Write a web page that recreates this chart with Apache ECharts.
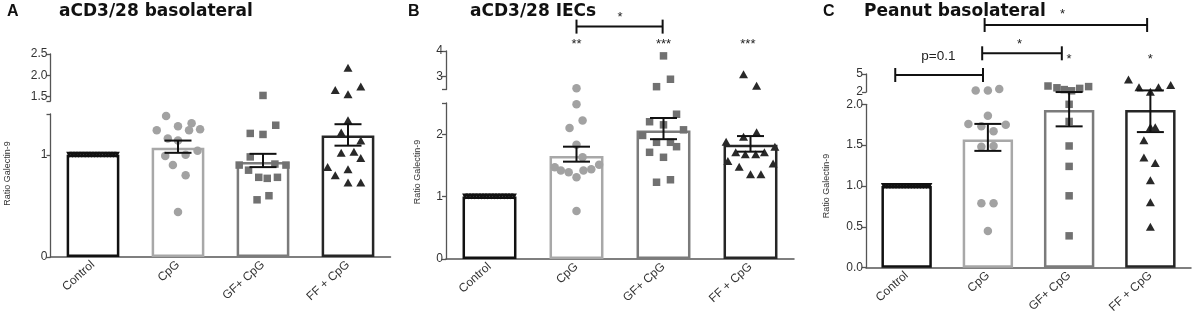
<!DOCTYPE html>
<html>
<head>
<meta charset="utf-8">
<script src="https://cdn.jsdelivr.net/npm/echarts@6/dist/echarts.min.js"></script>
<style>
  html, body { margin: 0; background: #fff; }
  #chart { width: 1192px; height: 323px; }
</style>
</head>
<body>
<div id="chart"></div>
<script>
// ---- data ----
const categories = ['Control', 'CpG', 'GF+ CpG', 'FF + CpG'];

// control wells are all normalised to 1 (row of inverted triangles)
const controlPoints = [[-0.28, 1], [-0.243, 1], [-0.205, 1], [-0.168, 1], [-0.131, 1], [-0.093, 1],
  [-0.056, 1], [-0.019, 1], [0.019, 1], [0.056, 1], [0.093, 1], [0.131, 1], [0.168, 1],
  [0.205, 1], [0.243, 1], [0.28, 1]];

// A: aCD3/28 basolateral   ([x jitter, ratio])
const aMean = [1.0, 1.07, 0.93, 1.19];
const aSemLow = [null, 1.02, 0.88, 1.09];
const aSemHigh = [null, 1.14, 1.01, 1.30];
const aCpG = [[-0.14, 1.38], [-0.25, 1.24], [0.0, 1.28], [0.16, 1.31], [0.13, 1.24], [0.26, 1.25], [-0.12, 1.16],
  [0.0, 1.14], [0.23, 1.04], [0.09, 1.0], [-0.15, 0.99], [-0.06, 0.9], [0.09, 0.8], [0.0, 0.44]];
const aGF = [[0.0, 1.53], [0.15, 1.29], [-0.15, 1.21], [0.0, 1.2], [-0.15, 0.98], [-0.28, 0.9], [0.27, 0.9],
  [-0.17, 0.85], [0.14, 0.91], [-0.05, 0.78], [0.05, 0.77], [0.17, 0.78], [-0.07, 0.56], [0.07, 0.6]];
const aFF = [[0.0, 2.18], [-0.15, 1.66], [0.15, 1.74], [0.0, 1.56], [0.0, 1.34], [-0.08, 1.22], [0.15, 1.14],
  [-0.08, 1.02], [0.07, 1.03], [0.15, 0.97], [-0.24, 0.88], [0.0, 0.86], [-0.15, 0.8], [0.0, 0.73], [0.15, 0.73]];
const aLowRange = [0, 1.4];
const aUpRange = [1.4, 2.5];
const aLowTicks = [0, 1];
const aUpTicks = [1.5, 2.0, 2.5];

// B: aCD3/28 IECs
const bMean = [1.0, 1.65, 2.06, 1.83];
const bSemLow = [null, 1.56, 1.92, 1.72];
const bSemHigh = [null, 1.80, 2.26, 1.97];
const bCpG = [[0.0, 2.55], [0.0, 2.48], [0.07, 2.22], [-0.08, 2.1], [0.0, 1.83], [0.07, 1.63], [-0.25, 1.47],
  [-0.18, 1.42], [-0.09, 1.39], [0.0, 1.31], [0.08, 1.42], [0.17, 1.44], [0.26, 1.51], [0.0, 0.77]];
const bGF = [[0.0, 3.81], [0.08, 2.9], [-0.08, 2.61], [0.15, 2.32], [-0.16, 2.2], [0.0, 2.15], [0.23, 2.07],
  [-0.24, 1.98], [-0.08, 1.87], [0.08, 1.87], [0.15, 1.8], [-0.16, 1.71], [0.0, 1.63], [-0.08, 1.23], [0.08, 1.27]];
const bFF = [[-0.08, 3.09], [0.07, 2.65], [0.07, 2.03], [-0.08, 1.96], [-0.28, 1.88], [0.28, 1.8], [-0.17, 1.71],
  [-0.06, 1.68], [0.06, 1.68], [0.16, 1.71], [-0.26, 1.57], [0.26, 1.53], [-0.13, 1.48], [0.0, 1.36], [0.12, 1.36]];
const bLowRange = [0, 2.5];
const bUpRange = [2.5, 4];
const bLowTicks = [0, 1, 2];
const bUpTicks = [3, 4];
const bBrackets = [[1.0, 1.99, 4.95]];
const bNotes = [[1.5, 5.3, '*'], [1.0, 4.26, '**'], [2.0, 4.26, '***'], [2.97, 4.26, '***']];

// C: Peanut basolateral
const cMean = [1.0, 1.57, 1.93, 1.93];
const cSemLow = [null, 1.43, 1.73, 1.66];
const cSemHigh = [null, 1.76, 2.15, 2.17];
const cCpG = [[-0.15, 2.25], [0.0, 2.25], [0.14, 2.5], [0.0, 1.86], [-0.24, 1.76], [-0.08, 1.73], [0.22, 1.75],
  [0.07, 1.67], [-0.08, 1.48], [0.07, 1.49], [-0.08, 0.79], [0.07, 0.79], [0.0, 0.45]];
const cGF = [[-0.26, 3.0], [-0.15, 2.7], [-0.06, 2.4], [0.03, 2.2], [0.13, 2.6], [0.24, 2.9], [0.0, 2.0],
  [0.0, 1.79], [0.0, 1.49], [0.0, 1.24], [0.0, 0.88], [0.0, 0.39]];
const cFF = [[-0.27, 4.1], [-0.14, 2.8], [0.0, 2.05], [0.1, 2.8], [0.25, 3.17], [0.0, 1.72], [0.06, 1.72],
  [-0.08, 1.56], [-0.08, 1.35], [0.06, 1.28], [0.0, 1.07], [0.0, 0.8], [0.0, 0.5]];
const cLowRange = [0, 2];
const cUpRange = [2, 5];
const cLowTicks = [0, 0.5, 1.0, 1.5, 2.0];
const cUpTicks = [2, 5];
const cBrackets = [[-0.14, 0.94, 4.83], [0.93, 1.91, 8.45], [0.96, 2.96, 13.17]];
const cNotes = [[0.39, 7.88, 'p=0.1'], [1.39, 9.97, '*'], [1.92, 14.97, '*'], [2.0, 7.37, '*'], [3.0, 7.37, '*']];

// ---- panels ----
const panels = [
  { letter: 'A', title: 'aCD3/28 basolateral', mean: aMean, lo: aSemLow, hi: aSemHigh,
    groups: [controlPoints, aCpG, aGF, aFF], lowRange: aLowRange, upRange: aUpRange,
    lowTicks: aLowTicks, upTicks: aUpTicks, brackets: [], notes: [] },
  { letter: 'B', title: 'aCD3/28 IECs', mean: bMean, lo: bSemLow, hi: bSemHigh,
    groups: [controlPoints, bCpG, bGF, bFF], lowRange: bLowRange, upRange: bUpRange,
    lowTicks: bLowTicks, upTicks: bUpTicks, brackets: bBrackets, notes: bNotes },
  { letter: 'C', title: 'Peanut basolateral', mean: cMean, lo: cSemLow, hi: cSemHigh,
    groups: [controlPoints, cCpG, cGF, cFF], lowRange: cLowRange, upRange: cUpRange,
    lowTicks: cLowTicks, upTicks: cUpTicks, brackets: cBrackets, notes: cNotes }
];

// layout in px
const layout = [
  { left: 50.5, width: 340, lowTop: 114, lowBottom: 257, upTop: 54, upBottom: 101,
    letterX: 7, titleX: 59, nameGap: 38, namePad: 24, lowDigits: 0, upDigits: 1 },
  { left: 446, width: 348, lowTop: 103, lowBottom: 259, upTop: 51, upBottom: 89.5,
    letterX: 408, titleX: 470, nameGap: 24, namePad: 18, lowDigits: 0, upDigits: 0 },
  { left: 866, width: 325, lowTop: 104.3, lowBottom: 267.7, upTop: 74, upBottom: 92,
    letterX: 823, titleX: 864, nameGap: 35, namePad: 0, lowDigits: 1, upDigits: 0 }
];

const barBorder = ['#111111', '#a8a8a8', '#7b7b7b', '#262626'];
const pointStyle = [
  { symbol: 'triangle', size: [6, 6], rotate: 180, color: '#111111' },
  { symbol: 'circle', size: 8.5, rotate: 0, color: '#a2a2a2' },
  { symbol: 'rect', size: 7.5, rotate: 0, color: '#717171' },
  { symbol: 'triangle', size: [9, 8], rotate: 0, color: '#292929' }
];
const axisColor = '#555';
const labelColor = '#333';

function yAxisFor(gridIndex, range, ticks, digits, extra) {
  const tickVals = Array.from(new Set(ticks.concat(range)));
  return Object.assign({
    type: 'value', gridIndex: gridIndex, min: range[0], max: range[1],
    axisLine: { show: true, onZero: false, lineStyle: { color: axisColor, width: 1.3 } },
    axisTick: { show: true, length: 4, customValues: tickVals, lineStyle: { color: axisColor, width: 1.3 } },
    axisLabel: { customValues: ticks, fontSize: 12, color: labelColor, margin: 3,
      fontFamily: 'Liberation Sans', formatter: v => Number(v).toFixed(digits) },
    splitLine: { show: false }
  }, extra || {});
}

const option = {
  animation: false,
  backgroundColor: '#fff',
  textStyle: { fontFamily: 'Liberation Sans' },
  title: [], grid: [], xAxis: [], yAxis: [], series: []
};

panels.forEach((p, k) => {
  const L = layout[k];
  option.title.push({ text: p.letter, left: L.letterX, top: 4, padding: 0,
    textStyle: { fontFamily: 'Liberation Sans', fontWeight: 'bold', fontSize: 16, color: '#111' } });
  option.title.push({ text: p.title, left: L.titleX, top: 3, padding: 0,
    textStyle: { fontFamily: 'DejaVu Sans', fontWeight: 'bold', fontSize: 17, color: '#111' } });

  const gLow = option.grid.length, gUp = gLow + 1;
  option.grid.push({ left: L.left, width: L.width, top: L.lowTop, height: L.lowBottom - L.lowTop, outerBoundsMode: 'none' });
  option.grid.push({ left: L.left, width: L.width, top: L.upTop, height: L.upBottom - L.upTop, outerBoundsMode: 'none' });

  const xCat = option.xAxis.length, xLow = xCat + 1, xUp = xCat + 2;
  option.xAxis.push({
    type: 'category', gridIndex: gLow, data: categories,
    axisLine: { onZero: false, lineStyle: { color: axisColor, width: 1.5 } },
    axisTick: { alignWithLabel: true, length: 5, lineStyle: { color: axisColor, width: 1.3 } },
    axisLabel: { rotate: 42, fontSize: 12, color: labelColor, margin: 6, interval: 0 }
  });
  option.xAxis.push({ type: 'value', gridIndex: gLow, min: -0.5, max: 3.5, show: false });
  option.xAxis.push({ type: 'value', gridIndex: gUp, min: -0.5, max: 3.5, show: false });

  const yLow = option.yAxis.length, yUp = yLow + 1;
  option.yAxis.push(yAxisFor(gLow, p.lowRange, p.lowTicks, L.lowDigits, {
    name: 'Ratio Galectin-9', nameLocation: 'middle', nameGap: L.nameGap,
    nameTextStyle: { fontSize: 9, color: labelColor, padding: [0, 0, 0, L.namePad] }
  }));
  option.yAxis.push(yAxisFor(gUp, p.upRange, p.upTicks, L.upDigits));

  // bars (mean)
  option.series.push({
    type: 'bar', xAxisIndex: xCat, yAxisIndex: yLow, barWidth: '62%', z: 1,
    data: p.mean.map((v, i) => ({ value: v, itemStyle: { color: '#fff', borderColor: barBorder[i], borderWidth: 2.5 } }))
  });

  // individual points, split across the axis break
  const lowMax = p.lowRange[1];
  p.groups.forEach((pts, i) => {
    const st = pointStyle[i];
    const base = { type: 'scatter', symbol: st.symbol, symbolSize: st.size, symbolRotate: st.rotate,
      itemStyle: { color: st.color, opacity: 1 }, z: 2, silent: true };
    const lowPts = pts.filter(d => d[1] <= lowMax).map(d => [i + d[0], d[1]]);
    const upPts = pts.filter(d => d[1] > lowMax).map(d => [i + d[0], d[1]]);
    option.series.push(Object.assign({}, base, { xAxisIndex: xLow, yAxisIndex: yLow, data: lowPts }));
    if (upPts.length) option.series.push(Object.assign({}, base, { xAxisIndex: xUp, yAxisIndex: yUp, data: upPts }));
  });

  // mean +/- SEM
  const semData = [];
  p.lo.forEach((v, i) => { if (v !== null) semData.push([i, v, p.hi[i]]); });
  option.series.push({
    type: 'custom', xAxisIndex: xLow, yAxisIndex: yLow, z: 3, clip: false, silent: true,
    data: semData,
    renderItem: (params, api) => {
      const a = api.coord([api.value(0), api.value(1)]);
      const b = api.coord([api.value(0), api.value(2)]);
      const hw = 13.5, st = { stroke: '#111', lineWidth: 2 };
      return { type: 'group', children: [
        { type: 'line', shape: { x1: a[0], y1: a[1], x2: b[0], y2: b[1] }, style: st },
        { type: 'line', shape: { x1: a[0] - hw, y1: a[1], x2: a[0] + hw, y2: a[1] }, style: st },
        { type: 'line', shape: { x1: b[0] - hw, y1: b[1], x2: b[0] + hw, y2: b[1] }, style: st }
      ] };
    }
  });

  // significance brackets and labels
  if (p.brackets.length) {
    option.series.push({
      type: 'custom', xAxisIndex: xUp, yAxisIndex: yUp, z: 3, clip: false, silent: true,
      data: p.brackets,
      renderItem: (params, api) => {
        const a = api.coord([api.value(0), api.value(2)]);
        const b = api.coord([api.value(1), api.value(2)]);
        const st = { stroke: '#111', lineWidth: 2 };
        return { type: 'group', children: [
          { type: 'line', shape: { x1: a[0], y1: a[1], x2: b[0], y2: b[1] }, style: st },
          { type: 'line', shape: { x1: a[0], y1: a[1] - 7, x2: a[0], y2: a[1] + 7 }, style: st },
          { type: 'line', shape: { x1: b[0], y1: b[1] - 7, x2: b[0], y2: b[1] + 7 }, style: st }
        ] };
      }
    });
  }
  if (p.notes.length) {
    option.series.push({
      type: 'custom', xAxisIndex: xUp, yAxisIndex: yUp, z: 3, clip: false, silent: true,
      data: p.notes.map(n => [n[0], n[1]]),
      renderItem: (params, api) => {
        const c = api.coord([api.value(0), api.value(1)]);
        const txt = p.notes[params.dataIndex][2];
        const star = txt.charAt(0) === '*';
        return { type: 'text', x: c[0], y: c[1], style: {
          text: txt, align: 'center', verticalAlign: 'middle',
          fontSize: star ? 13 : 13.5, fontFamily: 'Liberation Sans', fill: '#222'
        } };
      }
    });
  }
});

const chart = echarts.init(document.getElementById('chart'));
chart.setOption(option);
</script>
</body>
</html>
